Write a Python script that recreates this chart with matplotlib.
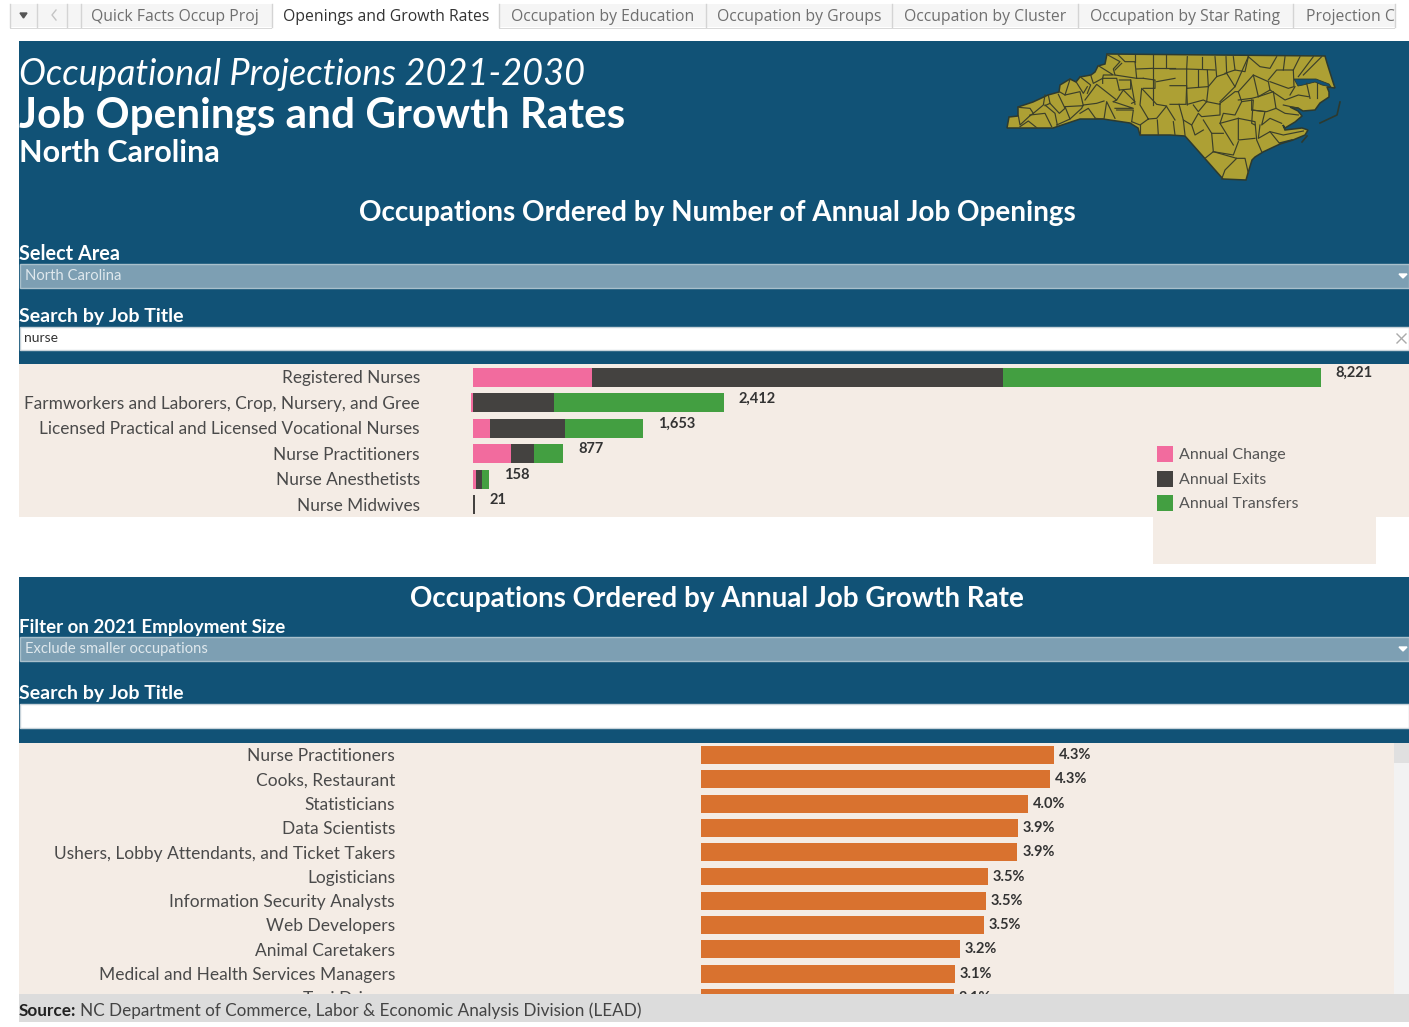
# -*- coding: utf-8 -*-
import matplotlib
matplotlib.use('Agg')
import matplotlib.pyplot as plt
from matplotlib.patches import Rectangle, Polygon

W, H = 1409, 1027
NAVY = '#115276'
CREAM = '#f4ece5'
DROP = '#7d9fb3'
GOLD = '#ada034'
FONT = 'Lato'
TAB_FONT = 'Open Sans'

#####data#####
tab_names = ['Quick Facts Occup Proj', 'Openings and Growth Rates', 'Occupation by Education',
             'Occupation by Groups', 'Occupation by Cluster', 'Occupation by Star Rating', 'Projection C']
tab_text_x = [91, 283, 511, 717, 904, 1090, 1306]
tab_edges = [81, 272, 499, 706, 892, 1078, 1293, 1395]

open_jobs = ['Registered Nurses', 'Farmworkers and Laborers, Crop, Nursery, and Gree',
             'Licensed Practical and Licensed Vocational Nurses', 'Nurse Practitioners',
             'Nurse Anesthetists', 'Nurse Midwives']
annual_change = [1154, -20, 165, 368, 30, 4]
annual_exits = [3987, 786, 728, 223, 60, 13]
annual_transfers = [3080, 1646, 760, 286, 68, 4]
open_totals = [8221, 2412, 1653, 877, 158, 21]

legend_names = ['Annual Change', 'Annual Exits', 'Annual Transfers']
legend_colors = ['#f26b9e', '#444240', '#439f41']

growth_jobs = ['Nurse Practitioners', 'Cooks, Restaurant', 'Statisticians', 'Data Scientists',
               'Ushers, Lobby Attendants, and Ticket Takers', 'Logisticians',
               'Information Security Analysts', 'Web Developers', 'Animal Caretakers',
               'Medical and Health Services Managers', 'Taxi Drivers']
growth_rate = [4.31, 4.26, 3.99, 3.87, 3.86, 3.50, 3.48, 3.45, 3.16, 3.10, 3.09]
growth_labels = ['4.3%', '4.3%', '4.0%', '3.9%', '3.9%', '3.5%', '3.5%', '3.5%', '3.2%', '3.1%', '3.1%']

# state outline in pixels
nc_outline = [(1007, 128), (1009, 117), (1018, 116), (1018, 107), (1033, 102), (1048, 95), (1059, 92),
              (1060, 85), (1070, 79), (1076, 82), (1080, 77), (1091, 75), (1095, 72), (1098, 66), (1105, 64),
              (1107, 54), (1325, 56), (1327, 63), (1333, 82), (1335, 88), (1327, 87), (1329, 92), (1329, 97),
              (1320, 103), (1315, 110), (1303, 111), (1298, 108), (1290, 107), (1298, 111),
              (1302, 116), (1295, 122), (1285, 128), (1283, 125), (1285, 130), (1302, 128), (1308, 130),
              (1305, 135), (1293, 140), (1280, 144), (1263, 152), (1255, 157), (1252, 160), (1248, 173),
              (1246, 180), (1223, 179), (1185, 136), (1170, 135), (1140, 135), (1138, 128), (1130, 123),
              (1103, 119), (1080, 119), (1053, 128)]
nc_water = [[(1294, 79), (1298, 86), (1303, 85), (1315, 82), (1322, 85), (1331, 87), (1329, 84), (1316, 79),
             (1303, 79)]]
nc_banks = [[(1340, 102), (1337, 115), (1320, 123)], [(1302, 142), (1307, 136)], [(1280, 143), (1292, 140)]]
# county lines, in 3x crop coordinates of the west and east half
west_lines = [[(55, 212), (60, 240), (90, 212)], [(60, 245), (85, 228), (110, 248)],
              [(55, 187), (90, 190), (100, 205), (90, 212)], [(90, 210), (135, 205), (155, 245)],
              [(135, 180), (165, 205), (172, 240)], [(145, 150), (150, 175), (135, 182)],
              [(100, 205), (130, 180), (135, 150)], [(150, 175), (178, 205), (195, 190), (175, 148)],
              [(195, 185), (250, 182), (240, 140), (195, 150), (178, 140)], [(210, 103), (195, 150)],
              [(170, 240), (210, 222), (195, 185)], [(210, 222), (245, 190), (248, 183)],
              [(240, 205), (265, 190), (285, 218)], [(228, 110), (250, 145), (262, 125)],
              [(240, 95), (272, 120), (262, 145)], [(250, 180), (290, 175), (312, 168)],
              [(255, 165), (290, 118), (350, 165), (340, 170)], [(285, 220), (312, 222), (320, 170), (345, 220)],
              [(272, 90), (280, 115), (308, 100), (308, 115)], [(295, 62), (340, 90), (310, 90), (308, 100)],
              [(320, 28), (360, 50), (340, 72), (345, 90)], [(355, 30), (375, 50), (405, 50), (410, 100)],
              [(345, 75), (365, 55)], [(345, 90), (410, 100), (430, 100)], [(308, 100), (350, 100), (358, 135)],
              [(358, 105), (392, 105), (392, 132), (358, 135)], [(350, 165), (370, 135), (405, 170), (395, 175)],
              [(340, 170), (400, 190), (345, 190)], [(350, 195), (400, 195), (395, 230)],
              [(395, 230), (420, 240), (445, 222), (420, 180), (425, 130), (470, 178), (500, 183), (470, 220), (445, 222)],
              [(392, 105), (405, 178)], [(405, 30), (405, 50)], [(458, 30), (458, 180)], [(458, 70), (525, 70)],
              [(410, 72), (458, 70)], [(498, 30), (498, 70)], [(430, 130), (465, 130), (465, 105), (430, 100)],
              [(470, 110), (525, 100)], [(420, 270), (420, 240)], [(472, 225), (475, 270)], [(500, 185), (525, 225)]]
east_lines = [[(0, 72), (50, 72), (50, 130), (112, 125)], [(52, 35), (50, 72)], [(95, 35), (95, 70)],
              [(135, 35), (140, 95)], [(168, 35), (170, 85)], [(190, 35), (195, 75)], [(85, 75), (85, 125)],
              [(112, 75), (115, 125)], [(50, 72), (135, 75)], [(0, 122), (50, 122), (48, 178), (0, 178)],
              [(50, 130), (52, 180)], [(115, 125), (140, 95), (170, 85), (195, 125), (150, 170)],
              [(115, 125), (110, 170), (150, 178)], [(52, 178), (100, 165), (110, 170)],
              [(70, 180), (85, 200), (110, 170)],
              [(27, 178), (40, 225), (65, 240), (85, 205), (95, 215), (150, 210), (150, 175)],
              [(195, 125), (235, 35)], [(165, 85), (195, 75), (225, 80), (235, 35)],
              [(150, 175), (195, 140), (205, 140), (215, 170), (195, 210), (160, 205), (150, 235), (190, 300)],
              [(205, 140), (250, 90), (265, 155), (245, 160), (205, 165)],
              [(250, 90), (295, 110), (300, 135), (265, 155)], [(235, 35), (270, 65), (300, 70), (320, 35)],
              [(295, 105), (320, 75), (370, 75), (372, 125), (355, 130), (300, 110)], [(345, 35), (340, 75)],
              [(390, 35), (370, 75)], [(430, 35), (385, 95)], [(455, 35), (400, 90)],
              [(300, 135), (345, 165), (385, 150), (415, 155)], [(360, 150), (375, 125)], [(410, 115), (420, 160)],
              [(440, 115), (440, 160)], [(265, 155), (310, 140), (318, 190), (290, 200), (245, 195), (245, 165)],
              [(215, 170), (250, 165), (245, 235), (255, 240)], [(245, 195), (285, 200), (275, 240), (300, 220), (335, 235)],
              [(340, 180), (385, 190)], [(318, 190), (345, 205), (385, 210)], [(205, 220), (205, 285), (255, 280)],
              [(150, 235), (205, 220), (255, 230), (260, 285), (275, 320)], [(100, 225), (125, 265), (160, 265)],
              [(125, 265), (130, 320)], [(65, 240), (75, 270), (100, 255)], [(40, 225), (45, 270)], [(10, 230), (15, 270)],
              [(130, 320), (190, 330), (205, 290)], [(105, 340), (130, 320), (200, 340), (165, 375), (155, 402)],
              [(200, 340), (225, 340), (235, 385)], [(270, 240), (265, 280), (300, 260), (330, 297)],
              [(300, 260), (340, 270), (400, 258)]]


#####page: everything but the bars is placed in pixels#####
fig = plt.figure(figsize=(W / 100, H / 100), dpi=100, facecolor='white')
page = fig.add_axes([0, 0, 1, 1])
page.set_xlim(0, W)
page.set_ylim(H, 0)
page.axis('off')


def box(x0, y0, x1, y1, color, **kw):
    page.add_patch(Rectangle((x0, y0), x1 - x0, y1 - y0, facecolor=color, edgecolor=kw.pop('edge', 'none'),
                             linewidth=kw.pop('lw', 0), **kw))


def label(x, y, s, size, color='white', ha='left', **kw):
    page.text(x, y + 1.5, s, fontsize=size, color=color, ha=ha, va='center', family=kw.pop('family', FONT), **kw)


# tab strip
box(10, 4, 1395, 27, '#f5f5f5')
box(10, 27.5, 1395, 28.5, '#d9d9d9')
box(272, 4, 499, 29, 'white')
for x in [10, 37, 67] + tab_edges:
    page.plot([x, x], [4, 27], color='#d4d4d4', lw=1)
for x, name in zip(tab_text_x, tab_names):
    col = '#333333' if name.startswith('Openings') else '#6f6f6f'
    label(x, 15.5, name, 11.3, color=col, family=TAB_FONT)
page.fill([20, 27, 23.5], [13, 13, 18], color='#555555')
page.plot([56, 52, 56], [10, 15, 20], color='#c4c4c4', lw=1)

# panels
box(19, 41, W, 364, NAVY)
box(19, 364, W, 517, CREAM)
box(1153, 517, 1376, 564, CREAM)
box(19, 577, W, 743, NAVY)
box(19, 743, 1394, 994, CREAM)
box(1394, 743, W, 994, '#f2f2f2')
box(1394, 743, W, 763, '#e0e0e0')
box(19, 994, W, 1022, '#dcdcdc')

# header text
label(19, 73, 'Occupational Projections 2021-2030', 26, style='italic')
label(19, 114, 'Job Openings and Growth Rates', 30.4, weight='bold')
label(19, 152, 'North Carolina', 22, weight='bold')
label(717, 211, 'Occupations Ordered by Number of Annual Job Openings', 20.1, ha='center', weight='bold')
label(717, 597, 'Occupations Ordered by Annual Job Growth Rate', 20, ha='center', weight='bold')

# filters
label(19, 252, 'Select Area', 14.3, weight='bold')
label(19, 315, 'Search by Job Title', 14, weight='bold')
label(19, 626, 'Filter on 2021 Employment Size', 13.5, weight='bold')
label(19, 692, 'Search by Job Title', 14, weight='bold')
for y0, y1, text in [(264, 288, 'North Carolina'), (637, 661, 'Exclude smaller occupations')]:
    box(20, y0, W, y1, DROP, edge='#a9c0cc', lw=1)
    label(25, (y0 + y1) / 2 - 1, text, 10.6, color='#dfe8ed')
    page.fill([1399, 1407, 1403], [y0 + 10, y0 + 10, y0 + 14], color='white')
for y0, y1, text in [(327, 350, 'nurse'), (704, 728, '')]:
    box(20, y0, W, y1, 'white', edge='#c8d3da', lw=1)
    label(24, y0 + 10, text, 10, color='#333333')
page.plot([1397, 1406], [334, 343], color='#aaaaaa', lw=1)
page.plot([1397, 1406], [343, 334], color='#aaaaaa', lw=1)

# map
page.add_patch(Polygon(nc_outline, closed=True, facecolor=GOLD, edgecolor='#2c3a30', lw=1.1))
for pts in nc_water:
    page.add_patch(Polygon(pts, closed=True, facecolor=NAVY, edgecolor='#2c3a30', lw=0.6))
for pts in nc_banks:
    page.plot(*zip(*pts), color='#2c3a30', lw=1.2)
for pts in west_lines:
    page.plot([1000 + p[0] / 3 for p in pts], [45 + p[1] / 3 for p in pts], color='#3b3f2a', lw=0.85)
for pts in east_lines:
    page.plot([1170 + p[0] / 3 for p in pts], [45 + p[1] / 3 for p in pts], color='#3b3f2a', lw=0.85)

# legend
for y, name, col in zip([454, 479, 503], legend_names, legend_colors):
    box(1157, y - 8, 1173, y + 8, col)
    label(1179, y - 0.5, name, 11.5, color='#555555')

# source line
page.text(19, 1010.5, 'Source:', fontsize=12.3, color='#222222', weight='bold', family=FONT, va='center')
label(80, 1009, 'NC Department of Commerce, Labor & Economic Analysis Division (LEAD)', 12.35, color='#444444')


def chart_axes(x0, y0, x1, y1):
    ax = fig.add_axes([x0 / W, 1 - y1 / H, (x1 - x0) / W, (y1 - y0) / H])
    ax.patch.set_alpha(0)
    ax.axis('off')
    return ax


#####openings chart#####
px_open = 0.1031
ax1 = chart_axes(19, 364, W, 517)
ax1.set_xlim((19 - 473) / px_open, (W - 473) / px_open)
ax1.set_ylim(5.49, -0.51)
rows = range(len(open_jobs))
starts = [max(c, 0) for c in annual_change]
ax1.barh(rows, annual_change, height=0.745, color=legend_colors[0])
ax1.barh(rows, annual_transfers, left=[s + e for s, e in zip(starts, annual_exits)], height=0.745,
         color=legend_colors[2])
# exits go on last so the thin Midwives bar reads dark
ax1.barh(rows, annual_exits, left=starts, height=0.745, color=legend_colors[1])
for i, name in enumerate(open_jobs):
    ax1.annotate(name, (0, i), xytext=(-53 * 0.72, -1), textcoords='offset points', ha='right', va='center',
                 fontsize=12.4, color='#4a4a4a', family=FONT, clip_on=True)
    end = starts[i] + annual_exits[i] + annual_transfers[i]
    ax1.annotate(f'{open_totals[i]:,}', (end, i), xytext=(14.5 * 0.72, 3), textcoords='offset points', va='center',
                 fontsize=10.5, color='#333333', family=FONT, weight='bold')

#####growth chart#####
px_growth = 81.9
ax2 = chart_axes(19, 743, 1394, 994)
ax2.set_xlim((19 - 701) / px_growth, (1394 - 701) / px_growth)
ax2.set_ylim(9.835, -0.494)
ax2.barh(range(len(growth_jobs)), growth_rate, height=0.74, color='#d9722f')
for i, name in enumerate(growth_jobs):
    ax2.annotate(name, (0, i), xytext=(-306 * 0.72, -1), textcoords='offset points', ha='right', va='center',
                 fontsize=12.5, color='#4a4a4a', family=FONT, annotation_clip=False, clip_on=True)
    ax2.annotate(growth_labels[i], (growth_rate[i], i), xytext=(5 * 0.72, 0), textcoords='offset points', va='center',
                 fontsize=10.5, color='#333333', family=FONT, weight='bold', annotation_clip=False, clip_on=True)

fig.savefig('out.png', dpi=100)
